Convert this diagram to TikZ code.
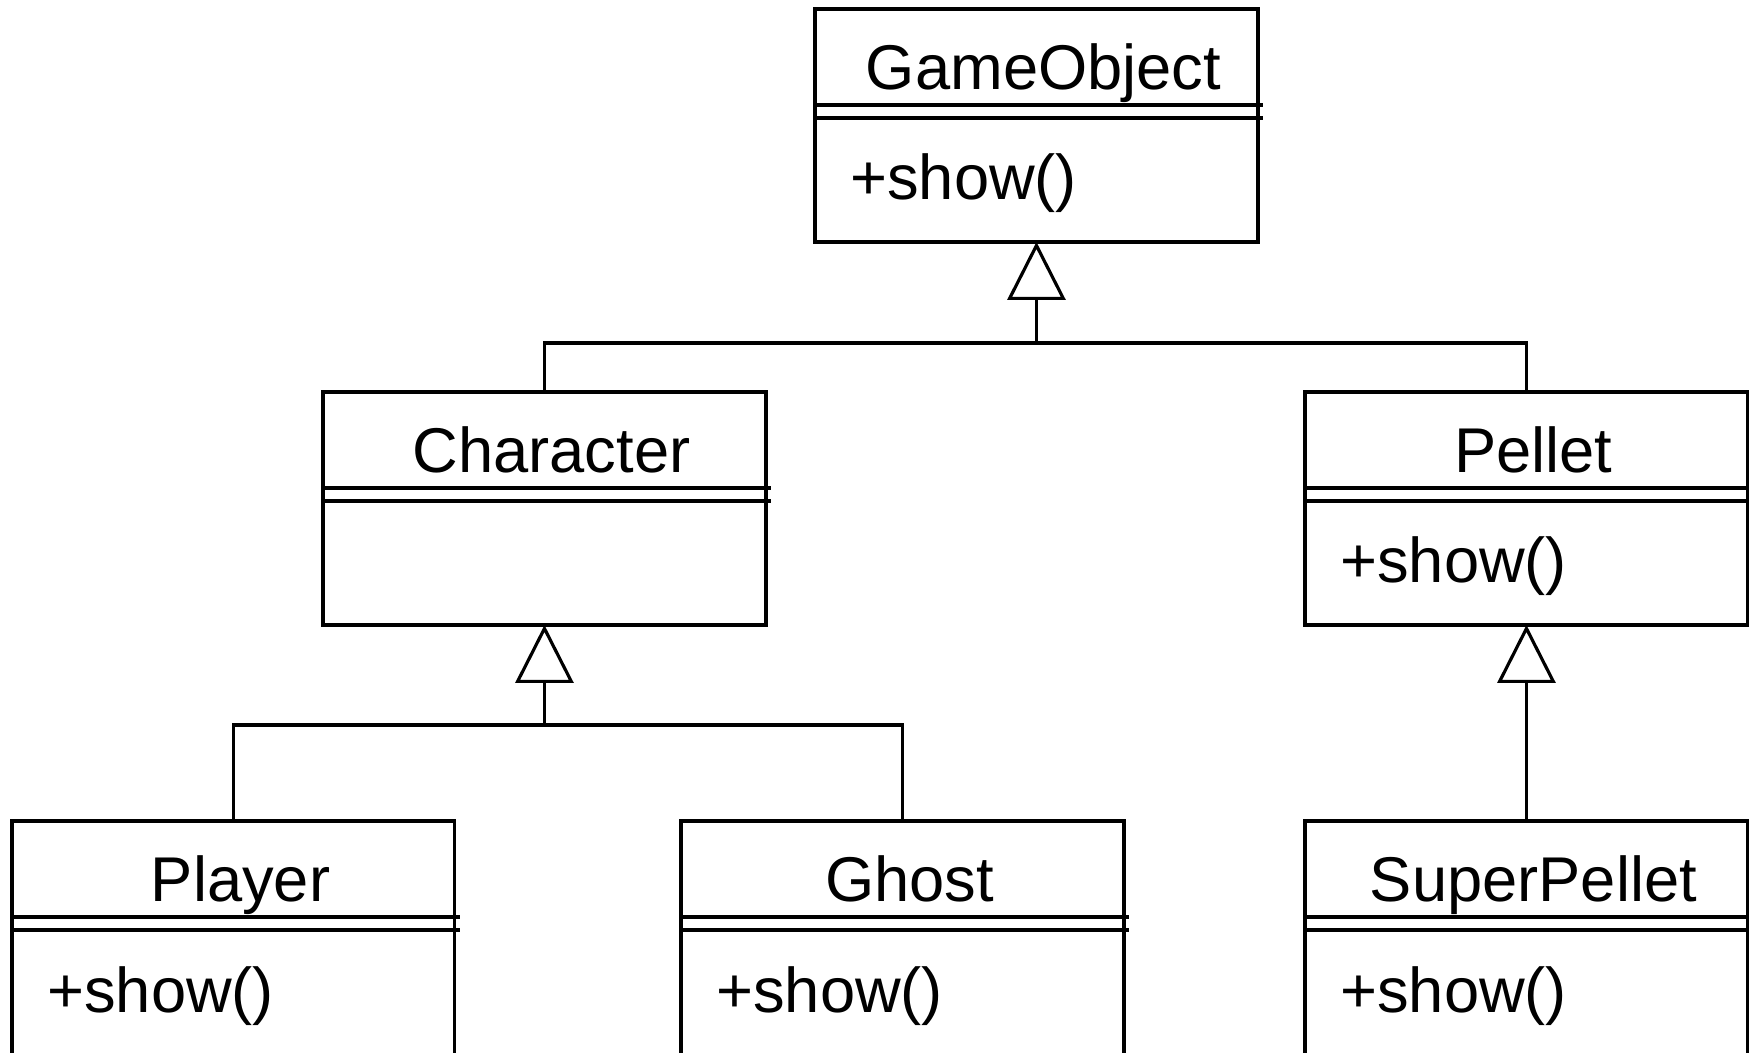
\documentclass[tikz,border=0pt]{standalone}
\usepackage{fontspec}
\setmainfont{Liberation Sans}
\usetikzlibrary{calc,arrows.meta}

\tikzset{
  classbox/.style={draw, line width=1.8pt, minimum width=8.86cm, inner sep=0pt, outer sep=0pt, anchor=north west},
  classname/.style={anchor=base, inner sep=0pt, font=\fontsize{36}{43}\selectfont},
  method/.style={anchor=base west, inner sep=0pt, font=\fontsize{36}{43}\selectfont},
  sepline/.style={line width=1.8pt},
  link/.style={line width=1.8pt},
  inherit/.style={link, -{Triangle[open, length=1.16cm, width=1.16cm]}},
}

% #1 name, #2 #3 top-left corner, #4 class name, #5 operation, #6 box height
\newcommand\umlclass[6]{%
  \node[classbox, minimum height=#6] (#1) at (#2,#3) {};
  \node[classname] (#1-name) at ($(#1.north)+(7,-81)$) {#4};
  \draw[sepline] ($(#1.north west)+(0,-96)$) -- ++(448,0);
  \draw[sepline] ($(#1.north west)+(0,-109)$) -- ++(448,0);
  \node[method] (#1-op) at ($(#1.north west)+(35,-191)$) {#5};
}

\begin{document}
\begin{tikzpicture}[x=0.02cm, y=0.02cm]
  \path[use as bounding box, fill=white] (0,0) rectangle (1749,-1053);

  \umlclass{go}{815}{-9}{GameObject}{+show()}{4.66cm}
  \umlclass{char}{323}{-392}{Character}{}{4.66cm}
  \umlclass{pel}{1305}{-392}{Pellet}{+show()}{4.66cm}
  \umlclass{player}{12}{-821}{Player}{+show()}{5.2cm}
  \umlclass{ghost}{681}{-821}{Ghost}{+show()}{5.2cm}
  \umlclass{spel}{1305}{-821}{SuperPellet}{+show()}{5.2cm}

  % GameObject generalisation
  \coordinate (j1) at ($(go.south)+(0,-101)$);
  \draw[inherit] (j1) -- (go.south);
  \draw[link] (char.north) |- (j1) -| (pel.north);

  % Character generalisation
  \coordinate (j2) at ($(char.south)+(0,-100)$);
  \draw[inherit] (j2) -- (char.south);
  \draw[link] (player.north) |- (j2) -| (ghost.north);

  % Pellet generalisation
  \draw[inherit] (spel.north) -- (pel.south);
\end{tikzpicture}
\end{document}
